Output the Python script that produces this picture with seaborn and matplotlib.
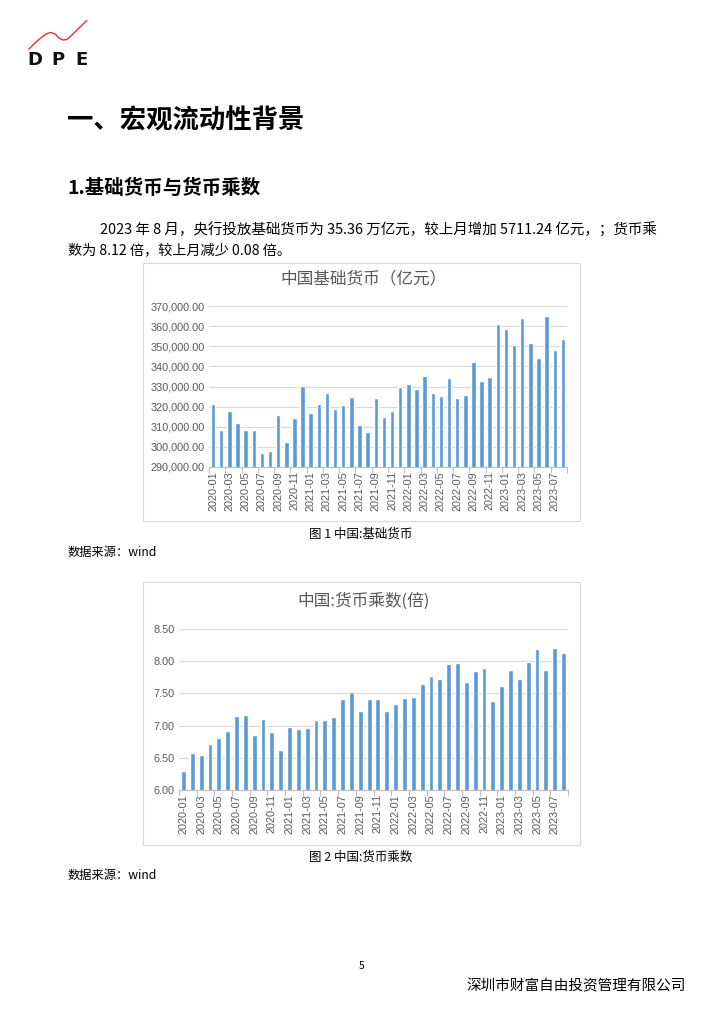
import matplotlib
matplotlib.use("Agg")
import matplotlib.pyplot as plt
from matplotlib.lines import Line2D
from matplotlib.patches import Rectangle
from matplotlib.ticker import FuncFormatter, FixedLocator
import seaborn as sns
import pandas as pd

# ---------------- data ----------------
months = [f"{y}-{m:02d}" for y in (2020, 2021, 2022) for m in range(1, 13)] + \
         [f"2023-{m:02d}" for m in range(1, 9)]

base_money = [321500, 308600, 317700, 311700, 308600, 308300, 297200, 298000,
              315700, 302300, 314500, 330400, 316700, 321500, 326900, 318700,
              320700, 324600, 310800, 307500, 324500, 315000, 317700, 329600,
              331200, 328600, 335300, 326800, 325100, 334200, 324300, 325600,
              342000, 332900, 334700, 360900, 358800, 350400, 364100, 351700,
              344100, 365200, 347900, 353600]

multiplier = [6.29, 6.58, 6.55, 6.72, 6.80, 6.92, 7.15, 7.16, 6.85, 7.11, 6.90,
              6.62, 6.98, 6.95, 6.96, 7.09, 7.09, 7.14, 7.41, 7.52, 7.23, 7.42,
              7.41, 7.23, 7.34, 7.43, 7.45, 7.65, 7.77, 7.72, 7.95, 7.97, 7.68,
              7.85, 7.90, 7.38, 7.62, 7.86, 7.73, 7.98, 8.19, 7.86, 8.20, 8.12]

chart1_title = "中国基础货币（亿元）"
chart2_title = "中国:货币乘数(倍)"
chart1_yticks = [290000, 300000, 310000, 320000, 330000, 340000, 350000, 360000, 370000]
chart2_yticks = [6.00, 6.50, 7.00, 7.50, 8.00, 8.50]

df1 = pd.DataFrame({"month": months, "value": base_money})
df2 = pd.DataFrame({"month": months, "value": multiplier})

# ---------------- style ----------------
sns.set_theme(style="white")
plt.rcParams['font.family'] = ['Noto Sans CJK SC', 'DejaVu Sans']

W, H = 724, 1024
fig = plt.figure(figsize=(W / 100, H / 100), dpi=100)
fig.patch.set_facecolor("white")

def fx(x):
    return x / W

def fy(y):
    return 1 - y / H

def text(x, y, s, **kw):
    fig.text(fx(x), fy(y), s, **kw)

BAR = "#5B9BD5"
GRID = "#D9D9D9"
TICKC = "#595959"

# ---------------- logo ----------------
lx = [28.7, 36, 42, 47, 51, 55, 59, 63, 67, 72, 79, 86.7]
ly = [49.3, 42, 37, 33.5, 32.5, 34, 38, 40, 39.5, 35, 28, 20.7]
fig.add_artist(Line2D([fx(v) for v in lx], [fy(v) for v in ly],
                      color="#E8312F", lw=1.0, solid_capstyle="round"))
for ch, x in (("D", 34.5), ("P", 57.5), ("E", 81.5)):
    text(x, 60, ch, ha="center", va="center", fontsize=13, fontweight="bold",
         color="#111111", family=["DejaVu Sans"])

# ---------------- headings & paragraph ----------------
text(67, 121, "一、宏观流动性背景", ha="left", va="center", fontsize=19, fontweight="bold", color="black")
text(67, 188, "1.基础货币与货币乘数", ha="left", va="center", fontsize=14, fontweight="bold", color="black")
text(100, 230, "2023 年 8 月，央行投放基础货币为 35.36 万亿元，较上月增加 5711.24 亿元，；货币乘",
     ha="left", va="center", fontsize=10.45, color="black")
text(68, 250, "数为 8.12 倍，较上月减少 0.08 倍。", ha="left", va="center", fontsize=10.2, color="black")

# ---------------- chart helper ----------------
def draw_chart(df, box, plot, title, title_y, yticks, fmt):
    bx0, by0, bx1, by1 = box
    fig.add_artist(Rectangle((fx(bx0), fy(by1)), fx(bx1 - bx0), (by1 - by0) / H,
                             transform=fig.transFigure, fill=False,
                             edgecolor=GRID, lw=0.8))
    text((bx0 + bx1) / 2 + 2, title_y, title, ha="center", va="center",
         fontsize=12, color=TICKC)
    px0, py0, px1, py1 = plot
    ax = fig.add_axes([fx(px0), fy(py1), fx(px1 - px0), (py1 - py0) / H])
    sns.barplot(data=df, x="month", y="value", color=BAR, saturation=1,
                width=0.55, ax=ax, zorder=3)
    ax.set_ylim(yticks[0], yticks[-1])
    ax.set_xlim(-0.5, len(df) - 0.5)
    ax.set_yticks(yticks)
    ax.yaxis.set_major_formatter(FuncFormatter(fmt))
    ax.set_xticks(range(0, len(df), 2))
    ax.set_xticklabels(df["month"][::2], rotation=90)
    ax.xaxis.set_minor_locator(FixedLocator([i - 0.5 for i in range(0, len(df) + 1, 2)]))
    ax.tick_params(axis="x", which="major", length=0, pad=3, labelsize=7.8,
                   labelcolor=TICKC)
    ax.tick_params(axis="x", which="minor", length=4, width=0.8, color="#BFBFBF",
                   direction="out", bottom=True)
    ax.tick_params(axis="y", length=0, pad=3, labelsize=7.8, labelcolor=TICKC)
    for lab in ax.get_xticklabels() + ax.get_yticklabels():
        lab.set_family(["Liberation Sans"])
    ax.grid(axis="y", color=GRID, lw=0.8, zorder=0)
    ax.set_axisbelow(True)
    for s in ("top", "right", "left"):
        ax.spines[s].set_visible(False)
    ax.spines["bottom"].set_color("#BFBFBF")
    ax.spines["bottom"].set_linewidth(0.8)
    ax.spines["bottom"].set_zorder(4)
    ax.set_xlabel("")
    ax.set_ylabel("")
    ax.set_facecolor("none")
    return ax

draw_chart(df1, (143, 263, 580, 521), (209, 306, 567, 467), chart1_title, 279,
           chart1_yticks, lambda v, p: f"{v:,.2f}")
text(361, 534, "图 1 中国:基础货币", ha="center", va="center", fontsize=9,
     fontweight="medium", color="black")
text(68, 552, "数据来源：wind", ha="left", va="center", fontsize=8.8, color="black")

draw_chart(df2, (143, 582, 580, 845), (179, 629, 568, 790), chart2_title, 601,
           chart2_yticks, lambda v, p: f"{v:.2f}")
text(361, 857, "图 2 中国:货币乘数", ha="center", va="center", fontsize=9,
     fontweight="medium", color="black")
text(68, 875, "数据来源：wind", ha="left", va="center", fontsize=8.8, color="black")

# ---------------- footer ----------------
text(362, 966, "5", ha="center", va="center", fontsize=7.5, color="black")
text(686, 986, "深圳市财富自由投资管理有限公司", ha="right", va="center", fontsize=10.5, color="black")

fig.savefig("out.png", dpi=100, facecolor="white")
